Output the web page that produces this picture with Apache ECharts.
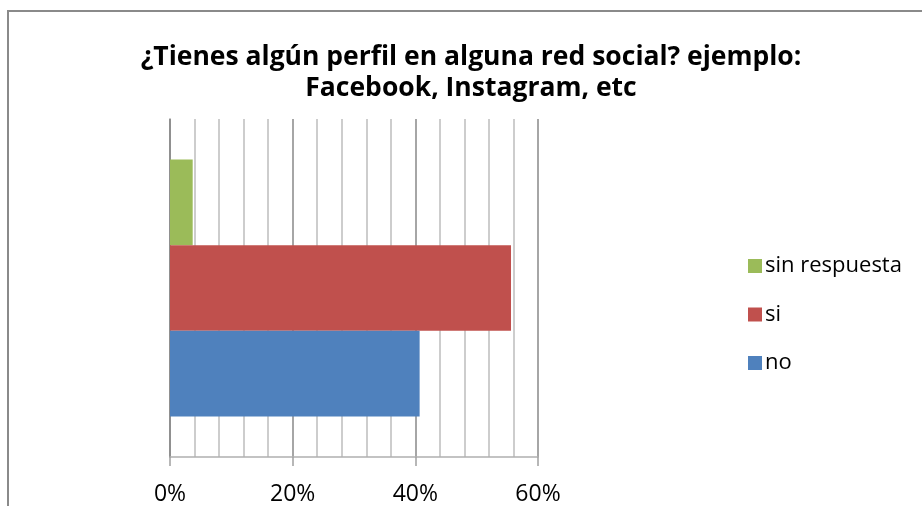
<!DOCTYPE html>
<html><head><meta charset="utf-8">
<script src="https://cdn.jsdelivr.net/npm/echarts@6/dist/echarts.min.js"></script>
<style>html,body{margin:0;padding:0;background:#fff}#c{width:922px;height:506px}</style>
</head><body><div id="c"></div>
<script>
const categories = [''];
const seriesNames = ['sin respuesta', 'si', 'no'];
const noValues = [40.7];
const siValues = [55.6];
const sinRespuestaValues = [3.7];
const xTicks = [0, 20, 40, 60];
const colors = {'no':'#4F81BD','si':'#C0504D','sin respuesta':'#9BBB59'};
const valuesByName = {'no': noValues, 'si': siValues, 'sin respuesta': sinRespuestaValues};

const chart = echarts.init(document.getElementById('c'), null, {renderer:'canvas'});
const font = '"Open Sans", "Noto Sans", sans-serif';
chart.setOption({
  animation:false,
  backgroundColor:'#fff',
  title:{
    text:'¿Tienes algún perfil en alguna red social? ejemplo:\nFacebook, Instagram, etc',
    left:466, top:37, textAlign:'center',
    textStyle:{fontFamily:font, fontWeight:'bold', fontSize:26.5, color:'#000', lineHeight:31}
  },
  legend:{
    orient:'vertical', left:743, top:250, itemGap:26.5,
    icon:'rect', itemWidth:14, itemHeight:14,
    data:['sin respuesta','si','no'],
    textStyle:{fontFamily:font, fontSize:22, lineHeight:22, color:'#000', padding:[0,0,0,-2]}
  },
  grid:{left:170, right:384, top:119, bottom:48, containLabel:false},
  xAxis:{
    type:'value', min:xTicks[0], max:xTicks[xTicks.length-1], interval:20,
    axisLine:{show:true, lineStyle:{color:'#b0b0b0', width:1.5}},
    axisTick:{show:true, length:9, lineStyle:{color:'#a0a0a0', width:1.5}},
    axisLabel:{formatter:'{value}%', fontFamily:font, fontSize:23, color:'#000', margin:26},
    splitLine:{show:true, lineStyle:{color:'#888', width:1.5}},
    minorTick:{show:false, splitNumber:5},
    minorSplitLine:{show:true, lineStyle:{color:'#bdbdbd', width:1.5}}
  },
  yAxis:{
    type:'category', data:categories,
    axisLine:{show:true, lineStyle:{color:'#888', width:1.5}},
    axisTick:{show:false}, axisLabel:{show:false}
  },
  series: seriesNames.map(n => ({
    name:n, type:'bar', data:valuesByName[n],
    barGap:'0%', barCategoryGap:'24%',
    itemStyle:{color:colors[n]}
  })),
  graphic:[{
    type:'polyline', silent:true,
    shape:{points:[[8,506],[8,11],[922,11]]},
    style:{stroke:'#8a8a8a', lineWidth:2, fill:null}
  }]
});
</script></body></html>
